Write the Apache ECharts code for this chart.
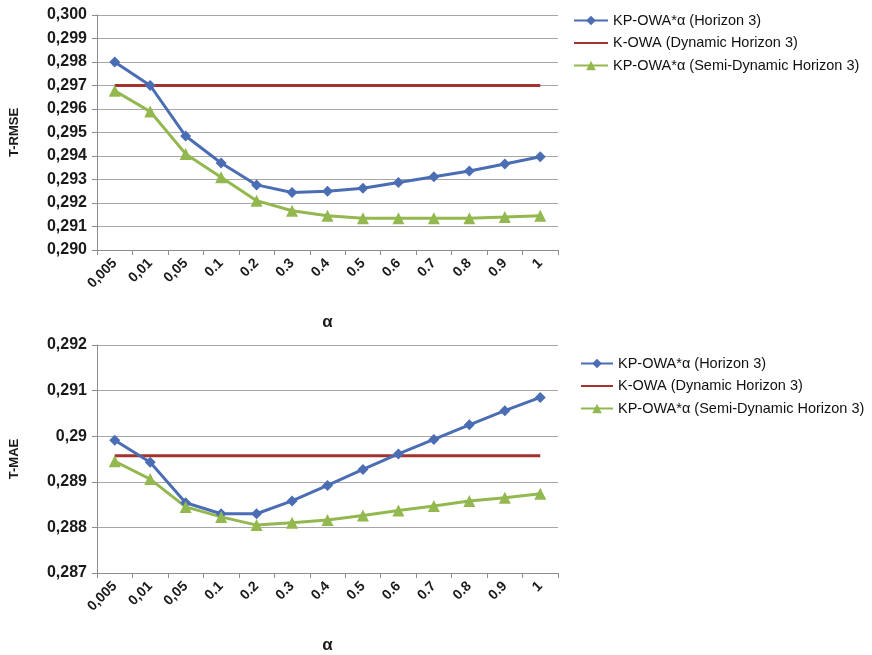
<!DOCTYPE html>
<html>
<head>
<meta charset="utf-8">
<script src="https://cdn.jsdelivr.net/npm/echarts@6/dist/echarts.min.js"></script>
<style>html,body{margin:0;padding:0;background:#fff;}#c{width:872px;height:655px;}</style>
</head>
<body>
<div id="c"></div>
<script>
const categories = ['0,005','0,01','0,05','0.1','0.2','0.3','0.4','0.5','0.6','0.7','0.8','0.9','1'];
const seriesNames = ['KP-OWA*\u03b1 (Horizon 3)','K-OWA (Dynamic Horizon 3)','KP-OWA*\u03b1 (Semi-Dynamic Horizon 3)'];
const rmseKP   = [0.2980,0.2970,0.29485,0.2937,0.29277,0.29245,0.2925,0.29263,0.29287,0.29312,0.29336,0.29366,0.29397];
const rmseK    = [0.2970,0.2970,0.2970,0.2970,0.2970,0.2970,0.2970,0.2970,0.2970,0.2970,0.2970,0.2970,0.2970];
const rmseSemi = [0.29678,0.29589,0.29409,0.2931,0.2921,0.29167,0.29146,0.29135,0.29135,0.29135,0.29135,0.2914,0.29146];
const maeKP    = [0.28991,0.28943,0.28854,0.2883,0.2883,0.28858,0.28892,0.28927,0.28961,0.28993,0.29025,0.29056,0.29085];
const maeK     = [0.28957,0.28957,0.28957,0.28957,0.28957,0.28957,0.28957,0.28957,0.28957,0.28957,0.28957,0.28957,0.28957];
const maeSemi  = [0.28945,0.28906,0.28845,0.28823,0.28805,0.2881,0.28816,0.28826,0.28837,0.28847,0.28858,0.28865,0.28874];

const colors = ['#4A6DB3','#A3332F','#93B84F'];
const font = 'Liberation Sans, Arial, sans-serif';

function xAxis(gi){
  return {
    type:'category', gridIndex:gi, data:categories, boundaryGap:true,
    name:'\u03b1', nameLocation:'middle', nameGap:64,
    nameTextStyle:{fontFamily:font,fontWeight:'bold',fontSize:17,color:'#1a1a1a'},
    axisLine:{lineStyle:{color:'#8c8c8c',width:1}},
    axisTick:{show:true,length:5,lineStyle:{color:'#8c8c8c'}},
    axisLabel:{rotate:45,fontFamily:font,fontWeight:'bold',fontSize:14,color:'#1a1a1a',margin:11}
  };
}
function yAxis(gi,min,max,name,fmt){
  return {
    type:'value', gridIndex:gi, min:min, max:max, interval:0.001,
    name:name, nameLocation:'middle', nameGap:76, nameRotate:90,
    nameTextStyle:{fontFamily:font,fontWeight:'bold',fontSize:13,color:'#1a1a1a'},
    axisLine:{show:true,lineStyle:{color:'#8c8c8c'}},
    axisTick:{show:true,length:5,lineStyle:{color:'#8c8c8c'}},
    splitLine:{show:true,lineStyle:{color:'#a6a6a6',width:1}},
    axisLabel:{fontFamily:font,fontWeight:'bold',fontSize:16,color:'#1a1a1a',margin:10,formatter:fmt}
  };
}
function lineSeries(name,data,idx,xi,yi){
  const sym = idx===0?'diamond':(idx===2?'triangle':'none');
  return {
    name:name, type:'line', xAxisIndex:xi, yAxisIndex:yi, data:data,
    symbol:sym, symbolSize: idx===0?11:12, showSymbol: idx!==1,
    lineStyle:{color:colors[idx],width:3}, itemStyle:{color:colors[idx]},
    emphasis:{disabled:true}, z: idx===1?2:3, animation:false
  };
}
const fmtTop = v => v.toFixed(3).replace('.',',');
const fmtBot = v => String(parseFloat(v.toFixed(3))).replace('.',',');
const legendData = () => seriesNames.map((n,i)=> i===1 ? {name:n,itemStyle:{opacity:0}} : {name:n});

const chart = echarts.init(document.getElementById('c'),null,{renderer:'canvas'});
chart.setOption({
  backgroundColor:'#fff',
  animation:false,
  grid:[
    {left:92,top:15,width:466,height:235},
    {left:92,top:345,width:466,height:235}
  ],
  xAxis:[xAxis(0),xAxis(1)],
  yAxis:[yAxis(0,0.290,0.300,'T-RMSE',fmtTop),yAxis(1,0.287,0.292,'T-MAE',fmtBot)],
  legend:[
    {left:568,top:8,orient:'vertical',itemGap:7.5,itemWidth:34,itemHeight:12,selectedMode:false,
     textStyle:{fontFamily:font,fontSize:14.5,color:'#111'},data:legendData()},
    {left:575,top:351,orient:'vertical',itemGap:7.5,itemWidth:32,itemHeight:12,selectedMode:false,
     textStyle:{fontFamily:font,fontSize:14.5,color:'#111'},data:legendData()}
  ],
  series:[
    lineSeries(seriesNames[0],rmseKP,0,0,0),
    lineSeries(seriesNames[1],rmseK,1,0,0),
    lineSeries(seriesNames[2],rmseSemi,2,0,0),
    lineSeries(seriesNames[0],maeKP,0,1,1),
    lineSeries(seriesNames[1],maeK,1,1,1),
    lineSeries(seriesNames[2],maeSemi,2,1,1)
  ]
});
</script>
</body>
</html>
